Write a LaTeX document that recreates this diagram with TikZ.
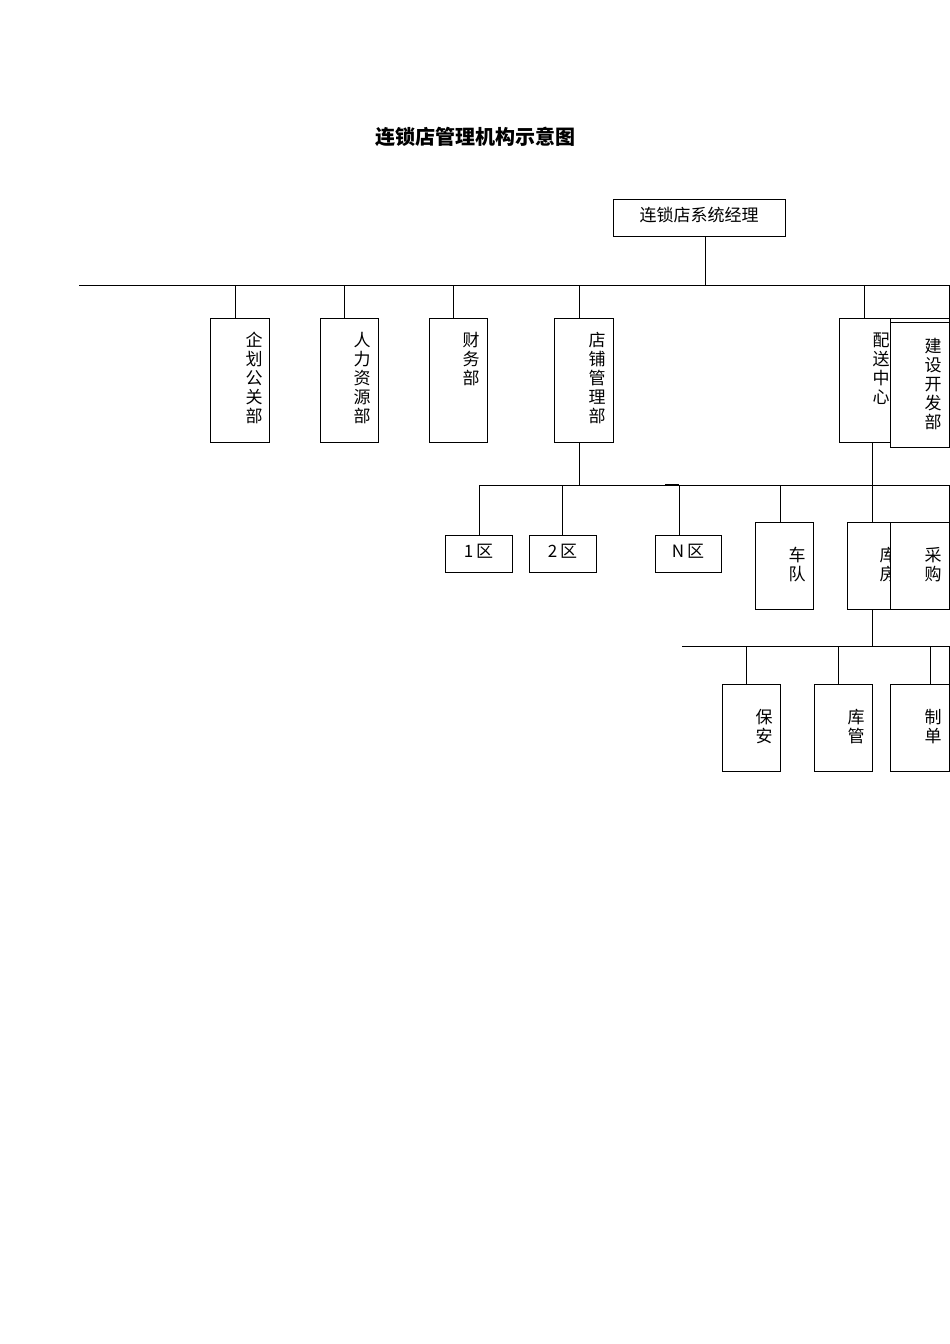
\documentclass[tikz,border=0pt]{standalone}
\usepackage{fontspec}
\newfontfamily\cjk{Noto Sans CJK SC}
\begin{document}
\begin{tikzpicture}[x=1pt,y=-1pt,line width=1pt,
  bx/.style={draw,fill=white,inner sep=0pt},
  vt/.style={font=\cjk\fontsize{17}{19}\selectfont,align=center,inner sep=0pt,anchor=north},
  ht/.style={font=\cjk\fontsize{17}{19}\selectfont,inner sep=0pt}]
\useasboundingbox (0,0) rectangle (950,1344);
\clip (0,0) rectangle (950,1344);
\node[font=\cjk\bfseries\fontsize{20}{22}\selectfont] (title) at (475,137) {连锁店管理机构示意图};
% top
\node[bx,minimum width=172pt,minimum height=37pt] (top) at (699,217.5) {};
\node[ht] (topt) at (699,215) {连锁店系统经理};
\coordinate (j1) at (705,285);
\draw (top.south -| j1) -- (j1);
\draw (79,285) -- (949,285) -- (949,318);
% level 1
\foreach \n/\l/\r/\c/\tx/\t in {a/210/269/235/254/企\\划\\公\\关\\部, b/320/378/344/362/人\\力\\资\\源\\部, c/429/487/453/471/财\\务\\部, d/554/613/579/597/店\\铺\\管\\理\\部, e/839/905/864/881/配\\送\\中\\心}{
  \draw (\c,285) -- (\c,318);
  \draw[fill=white] (\l,318) rectangle (\r,442);
  \node[vt] (\n) at (\tx,332) {\t};
}
\draw[fill=white] (890,318) rectangle (949,447);
\draw (890,322) -- (949,322);
\node[vt] (jian) at (933,338) {建\\设\\开\\发\\部};
% level 2
\draw (579,442) -- (579,485);
\draw (872,442) -- (872,522);
\draw (479,485) -- (949,485) -- (949,522);
\draw[line width=2pt] (665,485) -- (679,485);
\foreach \c/\b in {479/535,562/535,679/535,780/522}{\draw (\c,485) -- (\c,\b);}
\foreach \l/\r/\tx in {445/512/1\,区, 529/596/2\,区, 655/721/N\,区}{
  \draw[fill=white] (\l,535) rectangle (\r,572);
  \node[ht] at ({(\l+\r)/2},551) {\tx};
}
\draw[fill=white] (755,522) rectangle (813,609);
\node[vt] (che) at (797,547) {车\\队};
\draw[fill=white] (847,522) rectangle (905,609);
\node[vt] (ku) at (888,547) {库\\房};
\draw[fill=white] (890,522) rectangle (949,609);
\node[vt] (cai) at (933,547) {采\\购};
% level 3
\draw (872,609) -- (872,646);
\draw (682,646) -- (949,646) -- (949,684);
\foreach \c in {746,838,930}{\draw (\c,646) -- (\c,684);}
\foreach \l/\r/\tx/\t in {722/780/764/保\\安, 814/872/856/库\\管, 890/949/933/制\\单}{
  \draw[fill=white] (\l,684) rectangle (\r,771);
  \node[vt] at (\tx,709) {\t};
}
\end{tikzpicture}
\end{document}
